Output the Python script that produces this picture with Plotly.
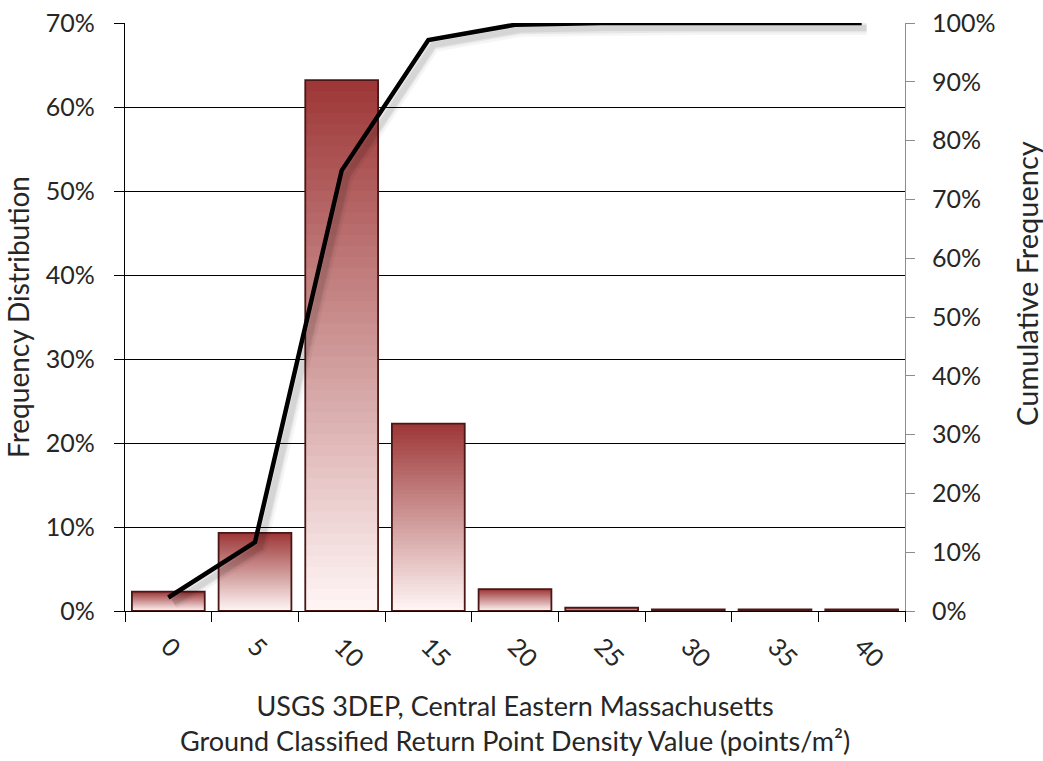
import plotly.graph_objects as go

# Return point density bins (points/m²) and their frequency shares
categories = ["0", "5", "10", "15", "20", "25", "30", "35", "40"]
frequency = [0.023, 0.093, 0.632, 0.223, 0.026, 0.004, 0.002, 0.002, 0.002]
cumulative = [0.023, 0.117, 0.749, 0.971, 0.997, 1.0, 1.0, 1.0, 1.0]

left_ticks = [0, 0.1, 0.2, 0.3, 0.4, 0.5, 0.6, 0.7]
right_ticks = [i / 10 for i in range(11)]

FONT = "Lato"
TXT = "#262626"

top_rgb = (158, 56, 56)
bot_rgb = (255, 244, 244)
N = 48

fig = go.Figure()

# Gradient-filled bars: layered bars, each starting a little higher and darker,
# so every bar fades from pale at its base to deep red at its top
for i in range(N):
    t = i / (N - 1)
    c = tuple(int(bot_rgb[k] + (top_rgb[k] - bot_rgb[k]) * t) for k in range(3))
    fig.add_trace(go.Bar(
        x=categories,
        y=[v * (N - i) / N for v in frequency],
        base=[v * i / N for v in frequency],
        marker=dict(color="rgb(%d,%d,%d)" % c, line=dict(width=0)),
        showlegend=False, hoverinfo="skip",
    ))

# Bar outlines
fig.add_trace(go.Bar(
    x=categories, y=frequency,
    marker=dict(color="rgba(0,0,0,0)", line=dict(color="#4a1616", width=1.8)),
    showlegend=False,
))

# Soft shadow of the cumulative line (drawn on slightly offset overlay axes)
for w, a in [(14, 0.04), (9, 0.06), (6, 0.07)]:
    fig.add_trace(go.Scatter(
        x=categories, y=cumulative, mode="lines",
        line=dict(color="rgba(0,0,0,%.2f)" % a, width=w),
        xaxis="x2", yaxis="y3", showlegend=False, hoverinfo="skip",
    ))

# Cumulative frequency line
fig.add_trace(go.Scatter(
    x=categories, y=cumulative, mode="lines",
    line=dict(color="black", width=4.5),
    yaxis="y2", showlegend=False,
))

cat_px = 780 / 9.0
dx = 5 / cat_px
dy = 5 / 588.0

fig.update_layout(
    width=1043, height=761,
    margin=dict(l=125, r=138, t=23, b=150),
    paper_bgcolor="white", plot_bgcolor="white",
    barmode="overlay", bargap=0.16,
    font=dict(family=FONT, size=25, color=TXT),
    xaxis=dict(
        type="category", range=[-0.5, 8.5], automargin=False,
        tickson="boundaries", ticks="outside", ticklen=10, tickcolor="black",
        tickangle=45, tickfont=dict(size=25, color=TXT), ticklabelstandoff=10,
        showline=True, linecolor="black", linewidth=1.2,
        showgrid=False,
        title=dict(
            text="USGS 3DEP, Central Eastern Massachusetts<br>Ground Classified Return Point Density Value (points/m²)",
            font=dict(size=27, color=TXT), standoff=25,
        ),
    ),
    yaxis=dict(
        range=[0, 0.7], tickvals=left_ticks, tickformat=".0%", automargin=False,
        ticks="outside", ticklen=10, tickcolor="black", ticklabelstandoff=14,
        showline=True, linecolor="black", linewidth=1.2,
        showgrid=True, gridcolor="black", gridwidth=1.2,
        zeroline=False,
        title=dict(text="Frequency Distribution", font=dict(size=28, color=TXT), standoff=8),
    ),
    yaxis2=dict(
        range=[0, 1], tickvals=right_ticks, tickformat=".0%", automargin=False,
        overlaying="y", side="right",
        ticks="outside", ticklen=9, tickcolor="#8c8c8c", ticklabelstandoff=12,
        showline=True, linecolor="#8c8c8c", linewidth=1.2,
        showgrid=False, zeroline=False,
    ),
    xaxis2=dict(type="category", overlaying="x", range=[-0.5 - dx, 8.5 - dx], visible=False),
    yaxis3=dict(overlaying="y", range=[0 + dy, 1 + dy], visible=False),
    annotations=[dict(
        text="Cumulative Frequency", textangle=-90,
        xref="paper", yref="paper", x=1.1564, y=0.558,
        xanchor="center", yanchor="middle", showarrow=False,
        font=dict(size=29, color=TXT),
    )],
)

fig.write_html("out.html")
